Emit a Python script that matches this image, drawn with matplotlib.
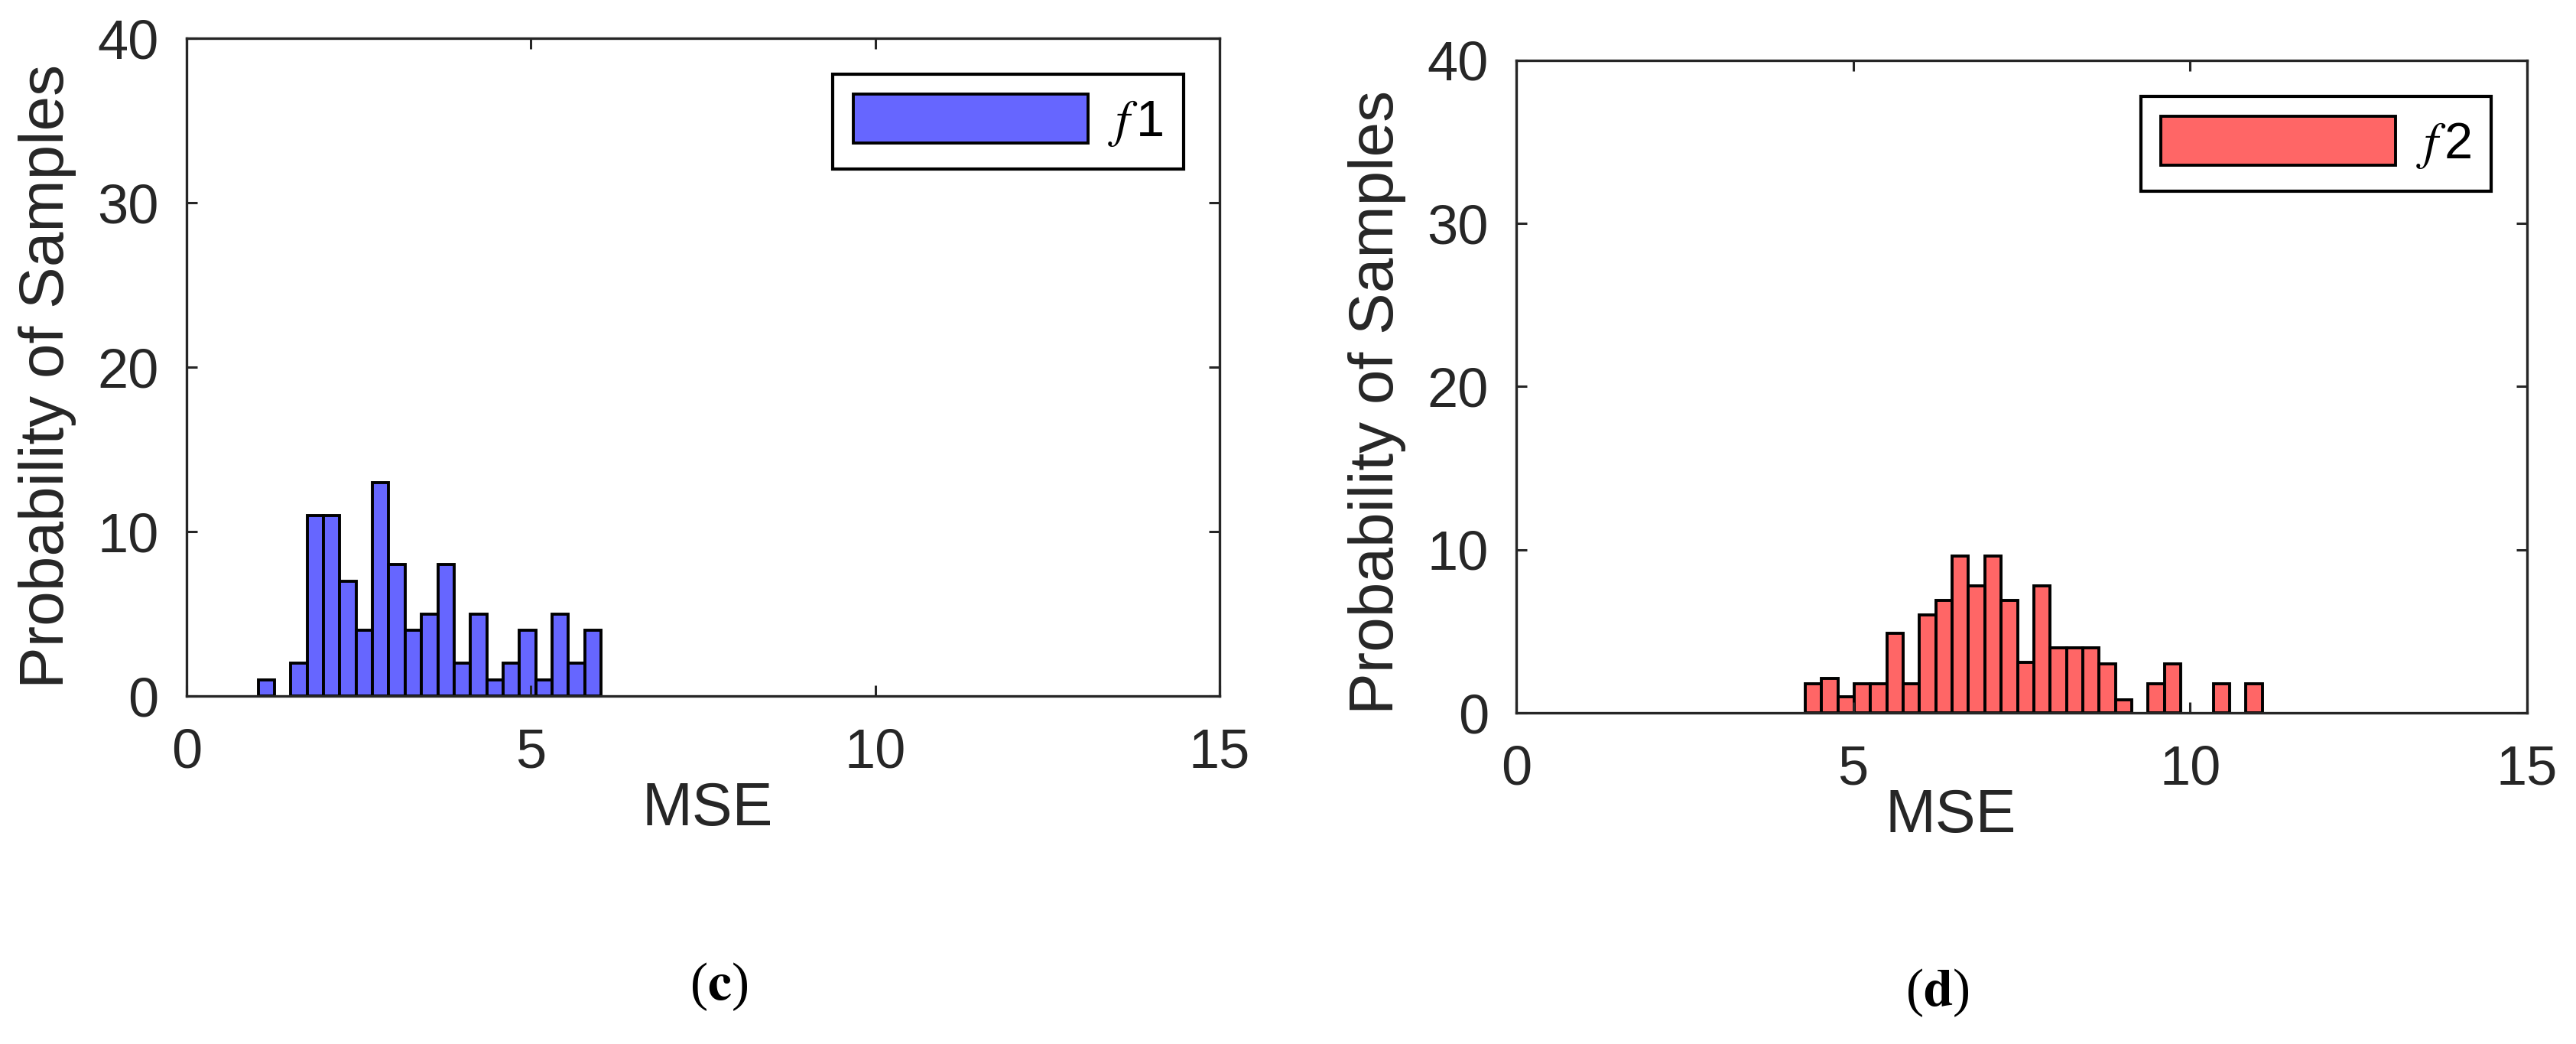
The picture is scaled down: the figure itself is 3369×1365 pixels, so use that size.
import numpy as np
import matplotlib
matplotlib.use("Agg")
import matplotlib.pyplot as plt

plt.rcParams["font.family"] = ["Liberation Sans", "DejaVu Sans"]
plt.rcParams["mathtext.fontset"] = "stix"

# histogram data (probability of samples per MSE bin)
f1_counts = [1, 0, 2, 11, 11, 7, 4, 13, 8, 4, 5, 8, 2, 5, 1, 2, 4, 1, 5, 2, 4]
f1_range = (1.04, 6.02)
f2_counts = [1.8, 2.1, 1.0, 1.8, 1.8, 4.9, 1.8, 6.0, 6.9, 9.6, 7.8, 9.6, 6.9, 3.1,
             7.8, 4.0, 4.0, 4.0, 3.0, 0.8, 0, 1.8, 3.0, 0, 0, 1.8, 0, 1.8]
f2_range = (4.29, 11.07)

x_ticks = [0, 5, 10, 15]
y_ticks = [0, 10, 20, 30, 40]

AXIS_COLOR = "#262626"


def draw_hist(ax, counts, rng, color, label, xlab_pos, ylab_pos):
    """Draw histogram bars from bin counts over an evenly split range"""
    counts = np.asarray(counts, dtype=float)
    edges = np.linspace(rng[0], rng[1], len(counts) + 1)
    width = edges[1] - edges[0]
    keep = counts > 0
    bars = ax.bar(edges[:-1][keep], counts[keep], width=width, align="edge",
                  color=color, edgecolor="black", linewidth=2.8, label=label)
    ax.set_xlim(0, 15)
    ax.set_ylim(0, 40)
    ax.set_xticks(x_ticks)
    ax.set_yticks(y_ticks)
    ax.tick_params(direction="in", length=10, width=2.2, top=True, right=True,
                   labelsize=52, colors=AXIS_COLOR, labelcolor="#262626")
    ax.tick_params(axis="x", pad=30)
    ax.tick_params(axis="y", pad=26)
    for sp in ax.spines.values():
        sp.set_linewidth(2.4)
        sp.set_color(AXIS_COLOR)
    ax.set_xlabel("MSE", fontsize=57, color="#262626", va="center")
    ax.set_ylabel("Probability of Samples", fontsize=59, color="#262626",
                  va="center", ha="center")
    ax.xaxis.set_label_coords(*xlab_pos)
    ax.yaxis.set_label_coords(*ylab_pos)
    leg = ax.legend(loc="upper right", fontsize=48, handlelength=4.6,
                    handleheight=1.1, handletextpad=0.4, borderpad=0.4,
                    borderaxespad=0.7, fancybox=False, edgecolor="black",
                    framealpha=1)
    leg.get_frame().set_linewidth(3)
    return bars


fig = plt.figure(figsize=(33.69, 13.65), dpi=100)

ax1 = fig.add_axes([0.0724, 0.3333, 0.401, 0.630])
draw_hist(ax1, f1_counts, f1_range, "#6666FF", r"$f\,$1",
          (0.504, -0.173), (-0.135, 0.486))

ax2 = fig.add_axes([0.5886, 0.3172, 0.3924, 0.625])
draw_hist(ax2, f2_counts, f2_range, "#FF6666", r"$f\,$2",
          (0.43, -0.159), (-0.138, 0.476))

fig.text(0.279, 0.055, r"($\mathbf{c}$)", fontsize=50, ha="center",
         va="center", family="Liberation Serif")
fig.text(0.752, 0.049, r"($\mathbf{d}$)", fontsize=50, ha="center",
         va="center", family="Liberation Serif")

fig.savefig("out.png", dpi=100, facecolor="white")
